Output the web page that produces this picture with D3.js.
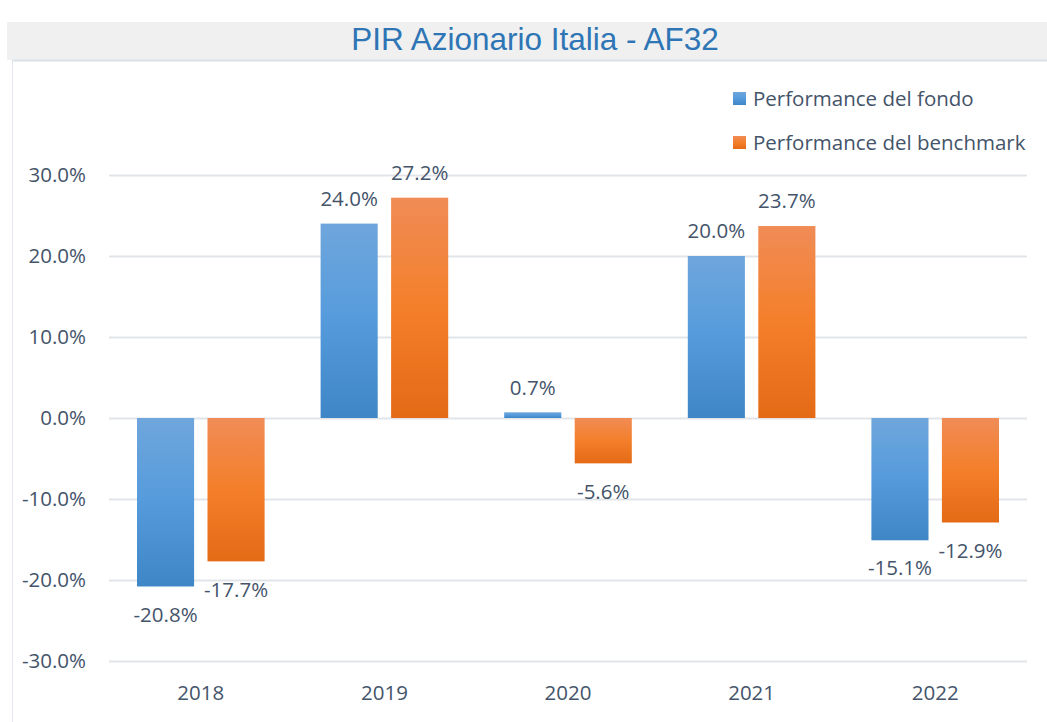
<!DOCTYPE html>
<html><head><meta charset="utf-8">
<script src="https://cdn.jsdelivr.net/npm/d3@7"></script>
<style>html,body{margin:0;padding:0;background:#fff;}svg{display:block;}</style>
</head><body>
<svg id="c" width="1047" height="722"></svg>
<script>
const categories = ["2018","2019","2020","2021","2022"];
const seriesNames = ["Performance del fondo","Performance del benchmark"];
const fondo = [-20.8, 24.0, 0.7, 20.0, -15.1];
const benchmark = [-17.7, 27.2, -5.6, 23.7, -12.9];
const yTicks = [-30, -20, -10, 0, 10, 20, 30];
const title = "PIR Azionario Italia - AF32";

const svg = d3.select("#c");
const font = "'Open Sans', 'Noto Sans', sans-serif";
const fs = 20.5;
const textCol = "#44546a";
const pct = d => d3.format(".1f")(d).replace("\u2212","-") + "%";

// frame
svg.append("rect").attr("x",7).attr("y",22).attr("width",1040).attr("height",38).attr("fill","#f0f0f0");
svg.append("line").attr("x1",12).attr("x2",1047).attr("y1",60.5).attr("y2",60.5).attr("stroke","#dbe1e8").attr("stroke-width",2);
svg.append("line").attr("x1",12.5).attr("x2",12.5).attr("y1",60).attr("y2",722).attr("stroke","#e3e8ee").attr("stroke-width",1);

svg.append("text").attr("x",535).attr("y",50).attr("text-anchor","middle")
  .attr("font-family","'Liberation Sans',Arial,sans-serif")
  .attr("font-size",31.5).attr("fill","#2e75b6").text(title);

const x = d3.scaleBand().domain(categories).range([109,1027]).paddingInner(0).paddingOuter(0);
const y = d3.scaleLinear().domain([-30,30]).range([661,175]);
const inner = d3.scaleBand().domain(seriesNames).range([28, x.bandwidth()-28]).paddingInner(0.19);

const defs = svg.append("defs");
function grad(id, c0, c1, c2){
  const g = defs.append("linearGradient").attr("id",id).attr("x1",0).attr("x2",0).attr("y1",0).attr("y2",1);
  g.append("stop").attr("offset","0%").attr("stop-color",c0);
  g.append("stop").attr("offset","50%").attr("stop-color",c1);
  g.append("stop").attr("offset","100%").attr("stop-color",c2);
}
grad("gb","#6fa6dc","#559bdc","#3f86c6");
grad("go","#f08c56","#f47f2a","#e46a16");
const fills = ["url(#gb)","url(#go)"];

// gridlines + y labels
const yAxis = d3.axisLeft(y).tickValues(yTicks).tickSize(-(1027-109)).tickFormat(pct);
const ga = svg.append("g").attr("transform","translate(109,0)").call(yAxis);
ga.select(".domain").remove();
ga.selectAll(".tick line").attr("stroke","#e1e5ea").attr("stroke-width",2);
ga.selectAll(".tick text").attr("x",-23).attr("font-family",font).attr("font-size",fs).attr("fill",textCol);

// x axis labels
const xAxis = d3.axisBottom(x).tickSize(0).tickPadding(0);
const gx = svg.append("g").attr("transform","translate(0,693)").call(xAxis);
gx.select(".domain").remove();
gx.selectAll(".tick text").attr("font-family",font).attr("font-size",fs).attr("fill",textCol).attr("dy","0.35em");

// bars
const data = [fondo, benchmark];
data.forEach((vals, si) => {
  const g = svg.append("g");
  g.selectAll("rect").data(vals).join("rect")
    .attr("x",(d,i)=>x(categories[i])+inner(seriesNames[si]))
    .attr("width",inner.bandwidth())
    .attr("y",d=>Math.min(y(d),y(0)))
    .attr("height",d=>Math.abs(y(d)-y(0)))
    .attr("fill",fills[si]);
  g.selectAll("text").data(vals).join("text")
    .attr("x",(d,i)=>x(categories[i])+inner(seriesNames[si])+inner.bandwidth()/2)
    .attr("y",d=> d>=0 ? y(d)-25 : y(d)+28)
    .attr("dy","0.35em")
    .attr("text-anchor","middle").attr("font-family",font).attr("font-size",fs).attr("fill",textCol)
    .text(pct);
});

// legend
const lg = svg.append("g");
seriesNames.forEach((n,i)=>{
  const yy = 99 + i*44;
  lg.append("rect").attr("x",733).attr("y",yy-7).attr("width",13).attr("height",13).attr("fill",fills[i]);
  lg.append("text").attr("x",753).attr("y",yy).attr("dy","0.35em").attr("font-family",font).attr("font-size",fs).attr("fill",textCol).text(n);
});
</script>
</body></html>
